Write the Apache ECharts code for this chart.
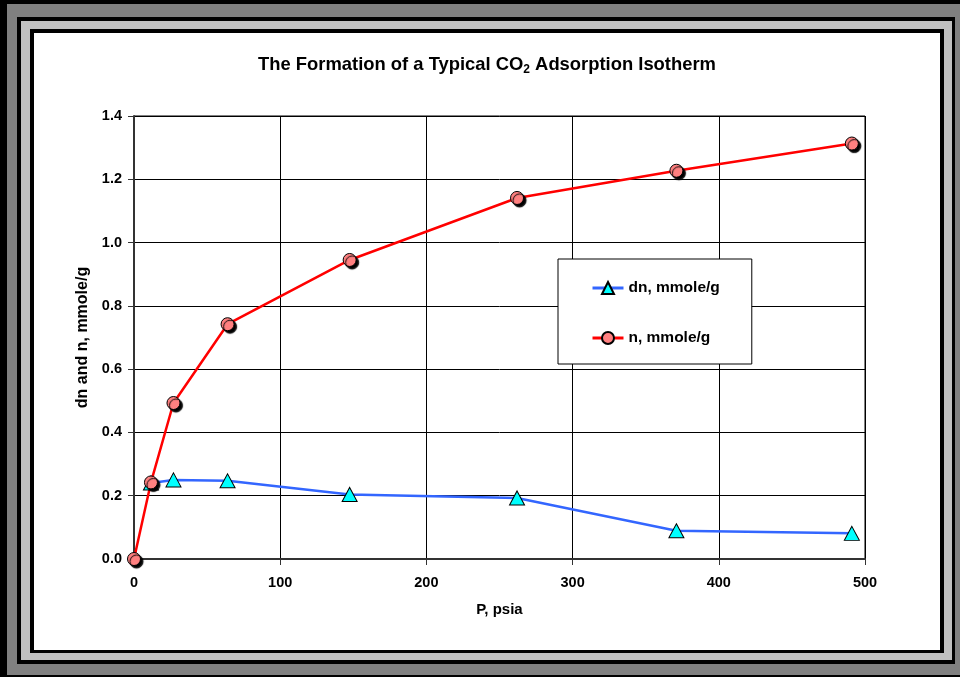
<!DOCTYPE html>
<html>
<head>
<meta charset="utf-8">
<script src="https://cdn.jsdelivr.net/npm/echarts@6/dist/echarts.min.js"></script>
<style>
  html, body { margin: 0; padding: 0; background: #000; }
  .f { position: absolute; }
  #chart { position: absolute; left: 0; top: 0; width: 960px; height: 677px; }
</style>
</head>
<body>
<div class="f" style="left:7px;top:4px;width:953px;height:671px;background:#808080"></div>
<div class="f" style="left:17px;top:17px;width:938px;height:647px;background:#000"></div>
<div class="f" style="left:21px;top:21px;width:931px;height:639px;background:#c0c0c0"></div>
<div class="f" style="left:30px;top:29px;width:914px;height:624px;background:#000"></div>
<div class="f" style="left:34px;top:33px;width:906px;height:617px;background:#fff"></div>
<div id="chart"></div>
<script>
// Data
const nPressure = [0, 11.6, 27, 64, 147.5, 262, 371, 491];
const nValues = [0, 0.242, 0.493, 0.742, 0.945, 1.141, 1.227, 1.313];
const dnPressure = [11.6, 27, 64, 147.5, 262, 371, 491];
const dnValues = [0.24, 0.25, 0.247, 0.204, 0.193, 0.089, 0.081];
const seriesNames = ['dn, mmole/g', 'n, mmole/g'];
const xAxisTitle = 'P, psia';
const yAxisTitle = 'dn and n, mmole/g';

const FONT = "'Liberation Sans', Arial, sans-serif";
const chart = echarts.init(document.getElementById('chart'), null, { renderer: 'canvas' });

const pairs = (xs, ys) => xs.map((x, i) => [x, ys[i]]);

chart.setOption({
  backgroundColor: 'transparent',
  animation: false,
  title: {
    text: '{a|The Formation of a Typical CO}{s|2}{a| Adsorption Isotherm}',
    left: 253,
    top: 49,
    textStyle: {
      rich: {
        a: { fontFamily: FONT, fontWeight: 'bold', fontSize: 18.4, color: '#000', lineHeight: 22 },
        s: { fontFamily: FONT, fontWeight: 'bold', fontSize: 12, color: '#000', lineHeight: 12, verticalAlign: 'bottom' }
      }
    }
  },
  legend: {
    orient: 'vertical',
    left: 558,
    top: 259,
    padding: [21, 32, 18, 33],
    itemGap: 34,
    itemWidth: 31,
    itemHeight: 15,
    backgroundColor: '#fff',
    borderColor: '#000',
    borderWidth: 1,
    lineStyle: { width: 3 },
    textStyle: { fontFamily: FONT, fontWeight: 'bold', fontSize: 15.5, color: '#000' },
    data: seriesNames
  },
  grid: {
    left: 134, right: 95, top: 116, bottom: 118,
    show: true, borderColor: '#000', borderWidth: 1, backgroundColor: 'transparent'
  },
  xAxis: {
    type: 'value', min: 0, max: 500, interval: 100,
    name: xAxisTitle, nameLocation: 'middle', nameGap: 43,
    nameTextStyle: { fontFamily: FONT, fontWeight: 'bold', fontSize: 15, color: '#000' },
    axisLine: { show: true, lineStyle: { color: '#333', width: 2 } },
    axisTick: { show: true, length: 6, lineStyle: { color: '#333', width: 1 } },
    axisLabel: { fontFamily: FONT, fontWeight: 'bold', fontSize: 14.5, color: '#000', margin: 16 },
    splitLine: { show: true, lineStyle: { color: '#000', width: 1 } }
  },
  yAxis: {
    type: 'value', min: 0, max: 1.4, interval: 0.2,
    name: yAxisTitle, nameLocation: 'middle', nameGap: 37,
    nameTextStyle: { fontFamily: FONT, fontWeight: 'bold', fontSize: 16, color: '#000' },
    axisLine: { show: true, lineStyle: { color: '#333', width: 2 } },
    axisTick: { show: true, length: 6, lineStyle: { color: '#333', width: 1 } },
    axisLabel: { fontFamily: FONT, fontWeight: 'bold', fontSize: 14.5, color: '#000', margin: 12,
      formatter: v => v.toFixed(1) },
    splitLine: { show: true, lineStyle: { color: '#000', width: 1 } }
  },
  series: [
    {
      name: seriesNames[0], type: 'line', data: pairs(dnPressure, dnValues),
      symbol: 'triangle', symbolSize: [15, 14],
      lineStyle: { color: '#3366FF', width: 2.5 },
      itemStyle: { color: '#00FFFF', borderColor: '#000', borderWidth: 1 },
      emphasis: { disabled: true }
    },
    {
      name: seriesNames[1], type: 'line', data: pairs(nPressure, nValues),
      symbol: 'circle', symbolSize: 13,
      lineStyle: { color: '#FF0000', width: 2.5 },
      itemStyle: { color: '#FF8080', borderColor: '#000', borderWidth: 1,
        shadowColor: '#000', shadowOffsetX: 2.5, shadowOffsetY: 2.5, shadowBlur: 1 },
      emphasis: { disabled: true }
    }
  ]
});
</script>
</body>
</html>
